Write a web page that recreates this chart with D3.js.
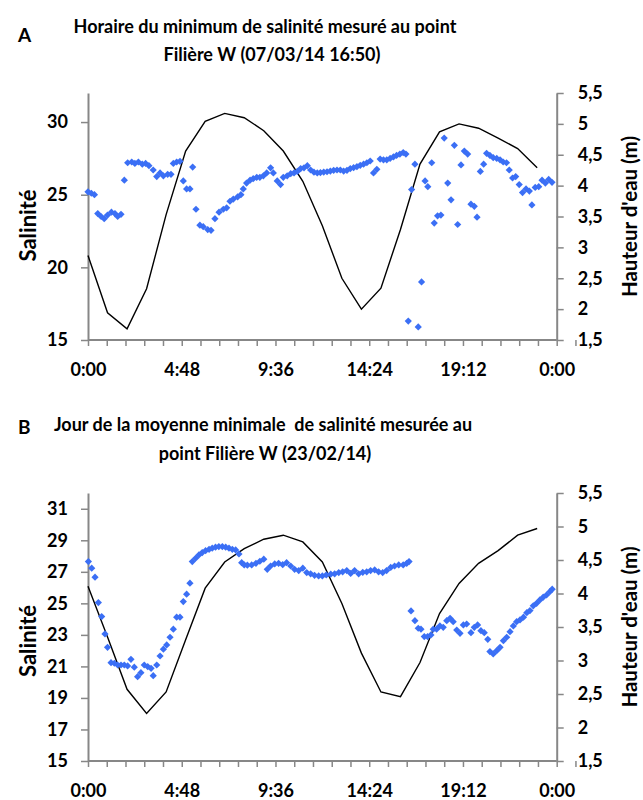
<!DOCTYPE html>
<html><head><meta charset="utf-8">
<script src="https://cdn.jsdelivr.net/npm/d3@7"></script>
<style>body{margin:0;background:#fff}svg{display:block}text{font-family:Lato,"Open Sans",sans-serif;font-weight:700;fill:#000}</style>
</head><body><svg id="c" width="643" height="800"></svg>
<script>
// ---------- data ----------
const tideHours = [0,1,2,3,4,5,6,7,8,9,10,11,12,13,14,15,16,17,18,19,20,21,22,23];
const tideA = [2.87,1.94,1.68,2.33,3.53,4.56,5.04,5.17,5.10,4.89,4.56,4.07,3.35,2.50,2.00,2.34,3.29,4.35,4.87,5.00,4.93,4.77,4.60,4.29];
const tideB = [4.11,3.35,2.57,2.21,2.53,3.31,4.08,4.47,4.67,4.81,4.87,4.77,4.47,3.85,3.11,2.53,2.46,2.97,3.70,4.15,4.45,4.64,4.87,4.97];
const salinityA = [[0.0,25.2],[0.17,25.1],[0.33,25.0],[0.5,23.7],[0.67,23.5],[0.83,23.35],[1.0,23.6],[1.2,23.8],[1.38,23.7],[1.52,23.5],[1.69,23.65],[1.86,26.0],[2.03,27.2],[2.24,27.25],[2.4,27.15],[2.58,27.25],[2.78,27.1],[2.95,27.15],[3.12,27.0],[3.34,26.7],[3.52,26.25],[3.69,26.5],[3.86,26.3],[4.08,26.4],[4.25,26.4],[4.37,27.15],[4.54,27.25],[4.71,27.3],[4.88,25.95],[5.05,25.4],[5.22,25.4],[5.36,26.9],[5.53,24.0],[5.73,22.9],[5.9,22.8],[6.13,22.6],[6.3,22.55],[6.5,23.35],[6.71,23.8],[6.93,24.0],[7.1,24.1],[7.27,24.55],[7.44,24.7],[7.66,24.85],[7.83,25.0],[7.95,25.4],[8.12,25.8],[8.3,26.0],[8.46,26.1],[8.64,26.2],[8.8,26.2],[8.98,26.3],[9.15,26.5],[9.35,26.85],[9.49,26.5],[9.69,25.95],[9.86,25.7],[10.0,26.2],[10.2,26.3],[10.38,26.45],[10.55,26.5],[10.72,26.6],[10.89,26.8],[11.06,26.85],[11.23,27.0],[11.4,26.7],[11.57,26.55],[11.74,26.5],[11.9,26.52],[12.07,26.56],[12.24,26.58],[12.41,26.63],[12.58,26.68],[12.75,26.7],[12.92,26.7],[13.09,26.63],[13.26,26.68],[13.43,26.8],[13.6,26.86],[13.77,26.93],[13.94,27.02],[14.11,27.1],[14.28,27.2],[14.45,27.32],[14.62,26.5],[14.79,26.75],[14.96,27.45],[15.13,27.4],[15.3,27.4],[15.47,27.5],[15.64,27.6],[15.8,27.7],[15.97,27.8],[16.14,27.9],[16.28,27.8],[16.4,16.3],[16.57,25.35],[16.74,27.1],[16.91,15.9],[17.08,19.0],[17.26,25.95],[17.4,25.55],[17.6,27.2],[17.73,23.05],[17.9,23.55],[18.07,23.6],[18.24,28.9],[18.42,25.8],[18.59,24.65],[18.76,28.4],[18.93,22.95],[19.1,27.05],[19.27,28.0],[19.44,27.8],[19.61,24.35],[19.78,24.2],[19.92,23.45],[20.09,26.6],[20.26,27.1],[20.41,27.85],[20.58,27.7],[20.75,27.55],[20.93,27.5],[21.1,27.4],[21.26,27.25],[21.43,27.2],[21.57,26.7],[21.74,26.15],[21.9,26.25],[22.08,25.7],[22.25,25.15],[22.43,25.4],[22.6,25.25],[22.73,24.3],[22.9,25.5],[23.08,25.55],[23.25,26.0],[23.42,25.8],[23.59,26.05],[23.76,25.85]];
const salinityB = [[0.02,27.65],[0.19,27.23],[0.36,26.66],[0.53,25.05],[0.7,24.16],[0.87,23.06],[1.0,22.21],[1.18,21.24],[1.35,21.2],[1.52,21.09],[1.69,21.09],[1.86,21.09],[2.03,21.03],[2.2,21.45],[2.37,20.95],[2.54,20.35],[2.71,20.6],[2.88,21.09],[3.06,20.98],[3.23,20.88],[3.34,20.41],[3.52,21.09],[3.69,21.66],[3.86,22.09],[4.03,22.36],[4.2,22.85],[4.37,23.36],[4.54,24.12],[4.71,24.12],[4.88,25.11],[5.05,25.58],[5.22,26.28],[5.34,27.65],[5.51,27.86],[5.68,28.07],[5.85,28.22],[6.02,28.34],[6.2,28.43],[6.36,28.5],[6.53,28.56],[6.7,28.6],[6.88,28.6],[7.05,28.56],[7.22,28.5],[7.39,28.43],[7.56,28.39],[7.73,28.13],[7.87,27.58],[8.0,27.44],[8.16,27.42],[8.38,27.44],[8.6,27.54],[8.8,27.67],[9.0,27.8],[9.18,27.16],[9.35,27.37],[9.56,27.5],[9.76,27.54],[9.97,27.45],[10.17,27.58],[10.38,27.37],[10.58,27.16],[10.79,27.08],[11.0,27.23],[11.2,26.95],[11.4,26.87],[11.6,26.78],[11.81,26.74],[12.0,26.74],[12.2,26.8],[12.43,26.85],[12.63,26.87],[12.84,26.95],[13.04,27.0],[13.25,27.08],[13.45,26.9],[13.65,27.08],[13.86,26.87],[14.07,26.97],[14.27,27.0],[14.47,27.08],[14.68,27.12],[14.88,27.0],[15.09,26.95],[15.29,27.08],[15.5,27.28],[15.7,27.37],[15.91,27.44],[16.14,27.44],[16.32,27.54],[16.44,27.65],[16.54,24.52],[16.74,23.9],[16.91,23.42],[17.05,23.36],[17.22,22.89],[17.39,22.89],[17.56,23.0],[17.68,23.36],[17.85,23.36],[18.02,23.57],[18.19,23.48],[18.37,23.9],[18.54,24.05],[18.7,23.84],[18.88,23.31],[19.05,23.1],[19.22,23.63],[19.39,23.69],[19.61,23.14],[19.78,23.48],[19.95,23.63],[20.12,23.27],[20.29,23.14],[20.47,22.72],[20.58,21.94],[20.75,21.79],[20.93,22.0],[21.1,22.21],[21.27,22.63],[21.44,22.85],[21.61,23.2],[21.78,23.57],[21.95,23.84],[22.12,23.95],[22.3,24.12],[22.47,24.41],[22.63,24.54],[22.8,24.84],[22.97,25.0],[23.14,25.22],[23.31,25.39],[23.48,25.53],[23.65,25.74],[23.77,25.9]];
const xTickLabels = ["0:00","4:48","9:36","14:24","19:12","0:00"];
const leftTicksA = [15,20,25,30];
const leftTicksB = [15,17,19,21,23,25,27,29,31];
const rightTicks = [1.5,2,2.5,3,3.5,4,4.5,5,5.5];
const titleA = ["Horaire du minimum de salinité mesuré au point","Filière W (07/03/14 16:50)"];
const titleB = ["Jour de la moyenne minimale  de salinité mesurée au","point Filière W (23/02/14)"];

// ---------- drawing ----------
const svg = d3.select("#c");
const AX = "#878787", BLUE = "#3b6ff5";
const fmtR = d => String(d).replace(".", ",");

function panel(cfg){
  const g = svg.append("g");
  const x = d3.scaleLinear().domain([0,24]).range([88,556.7]);
  const yL = d3.scaleLinear().domain([15,32]).range([cfg.bottom,cfg.top]);
  const yR = d3.scaleLinear().domain([1.5,5.5]).range([cfg.bottom,cfg.top]);

  // title
  cfg.title.forEach((t,i)=>{
    g.append("text").attr("x",cfg.titleX[i]).attr("y",cfg.titleY+i*28.5).attr("text-anchor","middle")
     .style("font-size","18px").style("white-space","pre").text(t);
  });
  g.append("text").attr("x",18).attr("y",cfg.letterY).style("font-size","19px").text(cfg.letter);

  // axes
  const xTicks = d3.range(0,25,0.96);
  const xAxis = d3.axisBottom(x).tickValues(xTicks).tickSize(6).tickPadding(17)
    .tickFormat((d,i)=> i%5===0 ? xTickLabels[i/5] : "");
  const gx = g.append("g").attr("transform",`translate(0,${cfg.bottom})`).call(xAxis);
  const gl = g.append("g").attr("transform","translate(88,0)")
    .call(d3.axisLeft(yL).tickValues(cfg.leftTicks).tickSize(7).tickPadding(13).tickSizeOuter(0));
  const gr = g.append("g").attr("transform","translate(556.7,0)")
    .call(d3.axisRight(yR).tickValues(rightTicks).tickSize(7).tickPadding(14).tickSizeOuter(0).tickFormat(fmtR));
  [gx,gl,gr].forEach(a=>{
    a.select(".domain").attr("stroke",AX).attr("stroke-width",2);
    a.selectAll(".tick line").attr("stroke",AX).attr("stroke-width",1.5);
    a.selectAll("text").attr("fill","#000").style("font-size","18px").style("font-family","Lato,sans-serif").style("font-weight","700");
  });
  gx.select(".domain").attr("d",`M88,0H556.7`);

  // axis titles
  const mid = (cfg.top+cfg.bottom)/2;
  g.append("text").attr("transform",`translate(36,${mid+cfg.salOff}) rotate(-90)`).attr("text-anchor","middle")
    .style("font-size","22px").text("Salinité");
  g.append("text").attr("transform",`translate(637,${mid}) rotate(-90)`).attr("text-anchor","middle")
    .style("font-size","20.5px").text("Hauteur d'eau (m)");

  // tide line
  const line = d3.line().x((d,i)=>x(tideHours[i])).y(d=>yR(d));
  g.append("path").datum(cfg.tide).attr("d",line).attr("fill","none").attr("stroke","#000").attr("stroke-width",1.4);

  // salinity
  const sym = d3.symbol().type(d3.symbolSquare).size(26);
  g.append("g").selectAll("path").data(cfg.sal).join("path")
    .attr("d",sym).attr("fill",BLUE)
    .attr("transform",d=>`translate(${x(d[0])},${yL(d[1])}) rotate(45)`);
}

panel({top:93,bottom:340,leftTicks:leftTicksA,tide:tideA,sal:salinityA,title:titleA,titleX:[265,272],titleY:32.5,letter:"A",letterY:42,salOff:9});
panel({top:493,bottom:761,leftTicks:leftTicksB,tide:tideB,sal:salinityB,title:titleB,titleX:[263,265],titleY:431,letter:"B",letterY:434,salOff:14});
</script></body></html>
